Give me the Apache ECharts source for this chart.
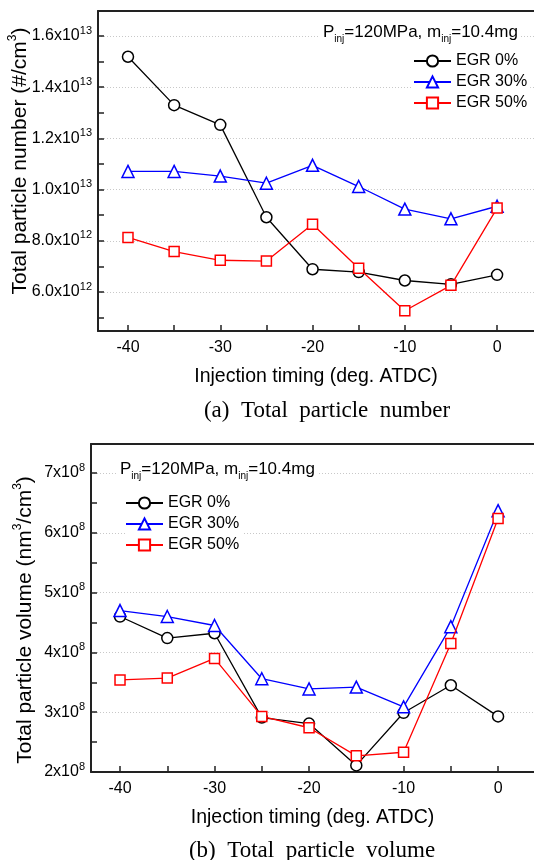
<!DOCTYPE html>
<html>
<head>
<meta charset="utf-8">
<script src="https://cdn.jsdelivr.net/npm/echarts@6/dist/echarts.min.js"></script>
<style>
html, body { margin: 0; padding: 0; background: #fff; }
#grafica { width: 534px; height: 860px; }
</style>
</head>
<body>
<div id="grafica"></div>
<script>
const timing = [-40, -35, -30, -25, -20, -15, -10, -5, 0];
const seriesNames = ["EGR 0%", "EGR 30%", "EGR 50%"];
const numEgr0 = [1.519e13, 1.330e13, 1.253e13, 8.92e12, 6.89e12, 6.78e12, 6.45e12, 6.30e12, 6.67e12];
const numEgr30 = [1.071e13, 1.071e13, 1.053e13, 1.025e13, 1.095e13, 1.012e13, 9.24e12, 8.86e12, 9.35e12];
const numEgr50 = [8.13e12, 7.58e12, 7.24e12, 7.21e12, 8.65e12, 6.93e12, 5.27e12, 6.26e12, 9.28e12];
const volEgr0 = [4.60e8, 4.24e8, 4.32e8, 2.91e8, 2.81e8, 2.11e8, 2.99e8, 3.45e8, 2.93e8];
const volEgr30 = [4.70e8, 4.60e8, 4.45e8, 3.56e8, 3.39e8, 3.42e8, 3.09e8, 4.43e8, 6.37e8];
const volEgr50 = [3.54e8, 3.57e8, 3.90e8, 2.93e8, 2.74e8, 2.27e8, 2.33e8, 4.15e8, 6.24e8];
const xMajor = [-40, -30, -20, -10, 0];
const xMinor = [-35, -25, -15, -5];
const numMajor = [6e12, 8e12, 1e13, 1.2e13, 1.4e13, 1.6e13];
const numMinor = [5e12, 7e12, 9e12, 1.1e13, 1.3e13, 1.5e13];
const volMajor = [2e8, 3e8, 4e8, 5e8, 6e8, 7e8];
const volMinor = [2.5e8, 3.5e8, 4.5e8, 5.5e8, 6.5e8];

const colors = ["#000000", "#0000ff", "#ff0000"];
const symbols = ["circle", "triangle", "rect"];
const symbolSizes = [11, 12, 10];
const sans = "Liberation Sans";
const axisCol = "#222";

const supRich = {
  b: { fontSize: 16, fontFamily: sans, color: "#000", lineHeight: 22 },
  s: { fontSize: 11, fontFamily: sans, color: "#000", verticalAlign: "top", lineHeight: 11 },
};

const numLabel = (v) => {
  const e = v >= 1e13 ? 13 : 12;
  return "{b|" + (v / Math.pow(10, e)).toFixed(1) + "x10}{s|" + e + "}";
};
const volLabel = (v) => "{b|" + Math.round(v / 1e8) + "x10}{s|8}";

// bottom axis with labels and ticks, top axis only for the frame line
const xAxesFor = (gridIndex, min, max) => [
  {
    type: "value", gridIndex, min, max, position: "bottom",
    name: "Injection timing (deg. ATDC)", nameLocation: "middle", nameGap: 36,
    nameMoveOverlap: false,
    nameTextStyle: { fontSize: 19.5, fontFamily: sans, color: "#000" },
    axisLine: { show: true, onZero: false, lineStyle: { color: axisCol, width: 2 } },
    axisTick: { show: true, inside: true, length: 6, customValues: xMajor.concat(xMinor), lineStyle: { color: axisCol, width: 1.5 } },
    axisLabel: { customValues: xMajor, margin: 9, fontSize: 16, fontFamily: sans, color: "#000" },
    splitLine: { show: false },
  },
  {
    type: "value", gridIndex, min, max, position: "top",
    axisLine: { show: true, onZero: false, lineStyle: { color: axisCol, width: 2 } },
    axisTick: { show: false }, axisLabel: { show: false }, splitLine: { show: false },
  },
];

// left axis: labels and all ticks; right axis (hidden) only gives the dotted grid lines
const yAxesFor = (gridIndex, min, max, major, minor, fmt, name, pad, gap) => [
  {
    type: "value", gridIndex, min, max, position: "left",
    name, nameLocation: "middle", nameGap: gap,
    nameMoveOverlap: false,
    nameTextStyle: {
      fontSize: 21, fontFamily: sans, color: "#000", lineHeight: 26, padding: pad,
      rich: { s: { fontSize: 12, fontFamily: sans, color: "#000", verticalAlign: "top", lineHeight: 12 } },
    },
    axisLine: { show: true, onZero: false, lineStyle: { color: axisCol, width: 2 } },
    axisTick: { show: true, inside: true, length: 6, customValues: major.concat(minor), lineStyle: { color: axisCol, width: 1.5 } },
    axisLabel: { customValues: major, margin: 6, formatter: fmt, rich: supRich },
    splitLine: { show: false },
  },
  {
    type: "value", gridIndex, min, max, position: "right",
    axisLine: { show: false },
    axisTick: { show: false, customValues: major },
    axisLabel: { show: false },
    splitLine: { show: true, lineStyle: { color: "#c8c8c8", type: [1, 2], width: 1 } },
  },
];

const makeSeries = (values, i, xAxisIndex, yAxisIndex) => ({
  name: seriesNames[i],
  type: "line",
  xAxisIndex, yAxisIndex,
  data: timing.map((t, k) => [t, values[k]]),
  symbol: symbols[i],
  symbolSize: symbolSizes[i],
  showAllSymbol: true,
  lineStyle: { color: colors[i], width: 1.3 },
  itemStyle: { color: "#fff", borderColor: colors[i], borderWidth: 1.5 },
  z: 3 + i,
});

const legendFor = (left, top) => ({
  left, top, orient: "vertical",
  itemWidth: 37, itemHeight: 14, itemGap: 5,
  padding: [0, 3, 0, 0],
  backgroundColor: "#fff",
  data: seriesNames,
  textStyle: { fontSize: 16, fontFamily: sans, color: "#000" },
});

const annotation = (left, top) => ({
  left, top,
  text: "{a|P}{s|inj}{a|=120MPa, m}{s|inj}{a|=10.4mg}",
  padding: [0, 3],
  backgroundColor: "#fff",
  textStyle: {
    fontWeight: "normal",
    rich: {
      a: { fontSize: 17, fontFamily: sans, fontWeight: "normal", color: "#000", lineHeight: 24 },
      s: { fontSize: 10, fontFamily: sans, fontWeight: "normal", color: "#000", verticalAlign: "bottom", lineHeight: 6 },
    },
  },
});

const caption = (text, left, top) => ({
  text, left, top,
  textAlign: "center",
  textStyle: { fontSize: 23, fontFamily: "Liberation Serif", fontWeight: "normal", color: "#000" },
});

const chart = echarts.init(document.querySelector("#grafica"));
chart.setOption({
  animation: false,
  backgroundColor: "#fff",
  title: [
    annotation(320, 20),
    annotation(117, 457),
    caption("(a)  Total  particle  number", 322, 394),
    caption("(b)  Total  particle  volume", 307, 834),
  ],
  legend: [legendFor(413, 53), legendFor(125, 495)],
  grid: [
    { left: 98, right: 0, top: 11, height: 320, outerBoundsMode: "none" },
    { left: 91, right: 0, top: 444, height: 328, outerBoundsMode: "none" },
  ],
  xAxis: [...xAxesFor(0, -43.25, 4), ...xAxesFor(1, -43.07, 3.8)],
  yAxis: [
    ...yAxesFor(0, 4.477e12, 1.6977e13, numMajor, numMinor, numLabel,
      "Total particle number (#/cm{s|3})", [0, 0, 0, 20], 65),
    ...yAxesFor(1, 2e8, 7.485e8, volMajor, volMinor, volLabel,
      "Total particle volume (nm{s|3}/cm{s|3})", [0, 24, 0, 0], 53),
  ],
  series: [
    makeSeries(numEgr0, 0, 0, 0),
    makeSeries(numEgr30, 1, 0, 0),
    makeSeries(numEgr50, 2, 0, 0),
    makeSeries(volEgr0, 0, 2, 2),
    makeSeries(volEgr30, 1, 2, 2),
    makeSeries(volEgr50, 2, 2, 2),
  ],
});
</script>
</body>
</html>
